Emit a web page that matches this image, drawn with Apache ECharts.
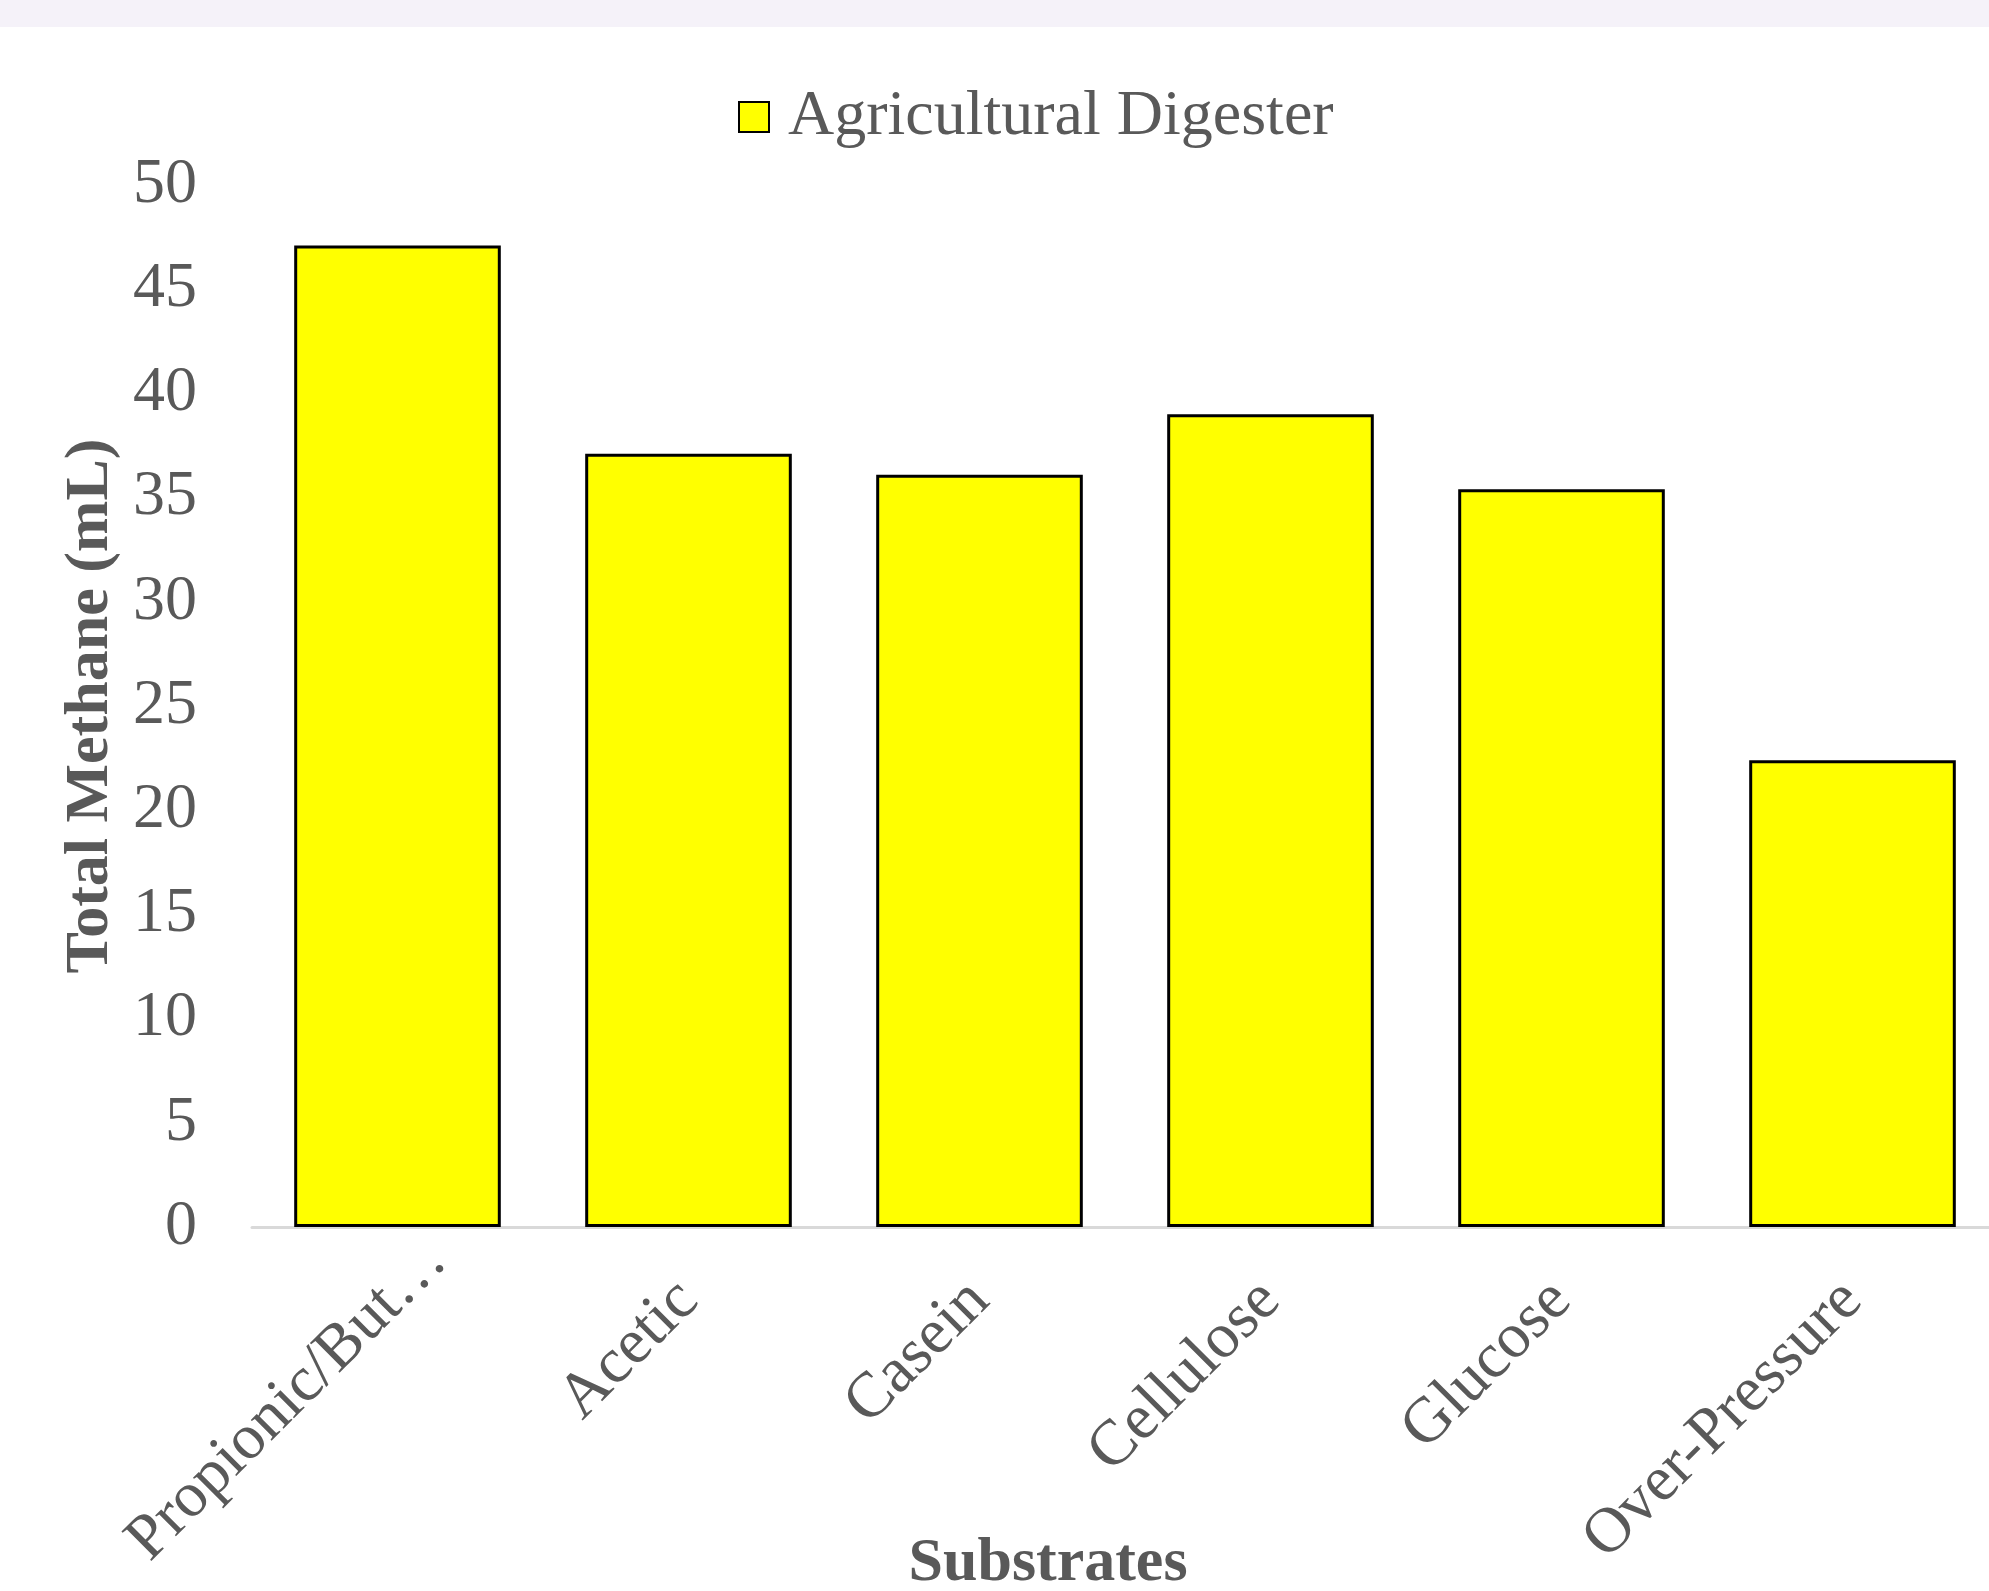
<!DOCTYPE html>
<html>
<head>
<meta charset="utf-8">
<title>Total Methane by Substrate</title>
<script src="https://cdn.jsdelivr.net/npm/echarts@6/dist/echarts.min.js"></script>
<style>
  html, body { margin: 0; padding: 0; background: #ffffff; }
  #chart { width: 1989px; height: 1591px; }
</style>
</head>
<body>
<div id="chart"></div>
<script>
// Substrates tested in the agricultural digester
const categories = ['Propionic/But…', 'Acetic', 'Casein', 'Cellulose', 'Glucose', 'Over-Pressure'];
// Total methane produced (mL)
const methaneValues = [47.1, 37.1, 36.1, 39.0, 35.4, 22.4];
const seriesName = 'Agricultural Digester';
const yTicks = { min: 0, max: 50, interval: 5 };

const FONT = '"Liberation Serif", "Times New Roman", serif';
const TEXT = '#595959';

// the truncated first label sits a little further along its slant
const categoryItems = categories.map((c, i) =>
  i === 0 ? { value: c, textStyle: { padding: [0, -56, 0, 0] } } : c
);

const chart = echarts.init(document.getElementById('chart'), null, { renderer: 'canvas' });

chart.setOption({
  backgroundColor: '#ffffff',
  animation: false,
  graphic: [
    { type: 'rect', left: 0, top: 0, shape: { width: 1989, height: 27 }, style: { fill: '#f5f2f9' }, z: 0 }
  ],
  legend: {
    data: [seriesName],
    top: 80,
    left: 733,
    icon: 'rect',
    itemWidth: 30,
    itemHeight: 30,
    textStyle: { fontFamily: FONT, fontSize: 64, color: TEXT, padding: [0, 0, 0, 14] }
  },
  grid: { left: 252, right: -9, top: 185, bottom: 364, containLabel: false, outerBoundsMode: 'none' },
  xAxis: {
    type: 'category',
    data: categoryItems,
    name: 'Substrates',
    nameLocation: 'middle',
    nameGap: 306,
    nameMoveOverlap: false,
    nameTextStyle: { fontFamily: FONT, fontSize: 62, fontWeight: 'bold', color: TEXT, padding: [0, 154, 0, 0] },
    axisLine: { show: true, lineStyle: { color: '#d9d9d9', width: 3 } },
    axisTick: { show: false },
    axisLabel: {
      rotate: 45,
      margin: 64,
      interval: 0,
      fontFamily: FONT, fontSize: 64, color: TEXT
    }
  },
  yAxis: {
    type: 'value',
    min: yTicks.min,
    max: yTicks.max,
    interval: yTicks.interval,
    name: 'Total Methane (mL)',
    nameLocation: 'middle',
    nameGap: 130,
    nameMoveOverlap: false,
    nameTextStyle: { fontFamily: FONT, fontSize: 62, fontWeight: 'bold', color: TEXT },
    axisLine: { show: false },
    axisTick: { show: false },
    splitLine: { show: false },
    axisLabel: { margin: 55, fontFamily: FONT, fontSize: 64, color: TEXT }
  },
  series: [{
    name: seriesName,
    type: 'bar',
    data: methaneValues,
    barCategoryGap: '29%',
    itemStyle: { color: '#ffff00', borderColor: '#000000', borderWidth: 3 }
  }]
});
</script>
</body>
</html>
